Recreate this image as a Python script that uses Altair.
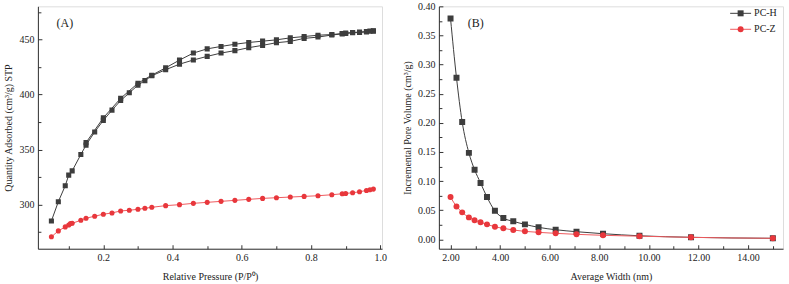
import altair as alt
import pandas as pd

FONT = "Liberation Serif"
GRAY = "#3d3d3d"
RED = "#e8373c"

# ---------------- Panel A data ----------------
ads_p = [0.05, 0.07, 0.09, 0.10, 0.11, 0.135, 0.15, 0.175, 0.20, 0.225, 0.25, 0.275, 0.30, 0.32,
         0.34, 0.38, 0.42, 0.46, 0.50, 0.54, 0.58, 0.62, 0.66, 0.70, 0.74, 0.78, 0.82, 0.86, 0.89,
         0.90, 0.92, 0.94, 0.96, 0.98]
ads_h = [285.2, 302.7, 317.2, 326.8, 330.7, 345.5, 354.0, 366.0, 376.5, 385.8, 394.5, 401.5, 408.5,
         412.6, 417.0, 422.5, 427.5, 431.3, 434.6, 437.6, 439.8, 442.5, 444.6, 447.0, 448.2, 450.9,
         452.1, 454.0, 455.0, 455.3, 456.0, 456.3, 456.8, 457.5]
des_p = [0.98, 0.97, 0.96, 0.94, 0.92, 0.90, 0.89, 0.86, 0.82, 0.78, 0.74, 0.70, 0.66, 0.62, 0.58,
         0.54, 0.50, 0.46, 0.42, 0.38, 0.34, 0.30, 0.25, 0.20, 0.15]
des_h = [457.8, 457.5, 457.2, 456.6, 456.3, 455.8, 455.3, 454.4, 453.8, 452.6, 451.4, 449.6, 448.4,
         447.2, 445.6, 443.6, 441.4, 437.6, 431.2, 424.2, 417.5, 410.2, 396.5, 378.8, 356.3]
z_p = [0.05, 0.07, 0.09, 0.10, 0.105, 0.11, 0.135, 0.15, 0.175, 0.20, 0.225, 0.25, 0.275, 0.30, 0.32,
       0.34, 0.38, 0.42, 0.46, 0.50, 0.54, 0.58, 0.62, 0.66, 0.70, 0.74, 0.78, 0.82, 0.86, 0.89,
       0.90, 0.92, 0.94, 0.96, 0.97, 0.98]
z_q = [270.8, 276.2, 279.8, 281.6, 282.8, 283.1, 285.8, 287.7, 289.5, 291.3, 292.5, 294.3, 294.9,
       295.8, 296.7, 297.6, 299.1, 300.0, 301.2, 302.1, 303.0, 303.9, 304.8, 305.7, 306.3, 306.9,
       307.5, 308.1, 309.0, 309.9, 310.2, 310.8, 311.7, 312.9, 313.5, 314.1]

# ---------------- Panel B data ----------------
widths = [2.0, 2.24, 2.47, 2.74, 2.97, 3.21, 3.47, 3.79, 4.13, 4.53, 5.0, 5.55, 6.24, 7.08, 8.15,
          9.62, 11.7, 15.0]
h_vol = [0.379, 0.2775, 0.2015, 0.1485, 0.1195, 0.097, 0.0726, 0.049, 0.0366, 0.031, 0.0258,
         0.0207, 0.0166, 0.0132, 0.0098, 0.0062, 0.0036, 0.0019]
z_vol = [0.0726, 0.0566, 0.0464, 0.0378, 0.0327, 0.0293, 0.0258, 0.0218, 0.019, 0.0161, 0.0138,
         0.0121, 0.0104, 0.0087, 0.007, 0.0055, 0.0035, 0.0019]

series_names = ["PC-H", "PC-Z"]

# tick lists
a_x_major = [0.2, 0.4, 0.6, 0.8, 1.0]
a_x_minor = [0.1, 0.3, 0.5, 0.7, 0.9]
a_y_major = [300, 350, 400, 450]
a_y_minor = [275, 325, 375, 425, 475]
b_x_major = [2, 4, 6, 8, 10, 12, 14]
b_x_minor = [3, 5, 7, 9, 11, 13, 15]
b_y_major = [0.0, 0.05, 0.10, 0.15, 0.20, 0.25, 0.30, 0.35, 0.40]
b_y_minor = [0.025, 0.075, 0.125, 0.175, 0.225, 0.275, 0.325, 0.375]

# ---------------- tables ----------------
rows = []
for i, (p, q) in enumerate(zip(ads_p, ads_h)):
    rows.append(dict(s="PC-H", br="ads", i=i, x=p, y=q))
for i, (p, q) in enumerate(zip(des_p, des_h)):
    rows.append(dict(s="PC-H", br="des", i=i, x=p, y=q))
for i, (p, q) in enumerate(zip(z_p, z_q)):
    rows.append(dict(s="PC-Z", br="ads", i=i, x=p, y=q))
dfa = pd.DataFrame(rows)

rows = []
for i, (w, v) in enumerate(zip(widths, h_vol)):
    rows.append(dict(s="PC-H", br="a", i=i, x=w, y=v))
for i, (w, v) in enumerate(zip(widths, z_vol)):
    rows.append(dict(s="PC-Z", br="a", i=i, x=w, y=v))
dfb = pd.DataFrame(rows)

W, H = 345, 243


def main_axis(title, fmt, values, orient, tpad):
    return alt.Axis(title=title, format=fmt, values=values, orient=orient, ticks=False,
                    grid=False, domain=True, domainColor="#333", labelFont=FONT, labelFontSize=10,
                    labelColor="#222", titleFont=FONT, titleFontSize=10, titleFontWeight="normal",
                    titleColor="#222", labelPadding=4, titlePadding=tpad, labelFlush=False)


def tick_axis(values, orient, size):
    return alt.Axis(title=None, values=values, orient=orient, labels=False, domain=False,
                    ticks=True, tickSize=size, offset=-size, tickColor="#333", grid=False)


def panel(df, xdom, ydom, xt, yt, xfmt, yfmt, xmaj, xmin, ymaj, ymin, interp, msize, label,
          lx, legend):
    xs = alt.Scale(domain=xdom, nice=False, zero=False)
    ys = alt.Scale(domain=ydom, nice=False, zero=False)
    layers = []
    first = True
    for name, col, shape in [("PC-H", GRAY, "square"), ("PC-Z", RED, "circle")]:
        sub = df[df.s == name]
        lc = col if name == "PC-H" else "#ef5a5e"
        line = alt.Chart(sub).mark_line(color=lc, strokeWidth=1, interpolate=interp, clip=True).encode(
            x=alt.X("x:Q", scale=xs,
                    axis=main_axis(xt, xfmt, xmaj, "bottom", 9) if first else None),
            y=alt.Y("y:Q", scale=ys,
                    axis=main_axis(yt, yfmt, ymaj, "left", 5) if first else None),
            detail="br:N",
            order="i:Q",
        )
        first = False
        pts = alt.Chart(sub).mark_point(shape=shape, filled=True, size=msize, color=col,
                                        opacity=1, clip=True).encode(
            x=alt.X("x:Q", scale=xs, axis=None),
            y=alt.Y("y:Q", scale=ys, axis=None),
        )
        layers += [line, pts]
    for vals_x, vals_y, sz in [(xmaj, ymaj, 4), (xmin, ymin, 3)]:
        t = alt.Chart(df).mark_point(opacity=0).encode(
            x=alt.X("x:Q", scale=xs, axis=tick_axis(vals_x, "bottom", sz)),
            y=alt.Y("y:Q", scale=ys, axis=tick_axis(vals_y, "left", sz)),
        )
        layers.append(t)
    lab = alt.Chart(pd.DataFrame({"t": [label]})).mark_text(
        font=FONT, fontSize=12, color="#222", align="center", baseline="middle").encode(
        text="t:N", x=alt.value(lx), y=alt.value(17))
    layers.append(lab)
    if legend:
        for k, (name, col, shape, lc) in enumerate([("PC-H", GRAY, "square", GRAY),
                                                     ("PC-Z", RED, "circle", "#ef5a5e")]):
            ly = 7 + 16 * k
            ldf = pd.DataFrame({"t": [name]})
            seg = alt.Chart(ldf).mark_rule(color=lc, strokeWidth=1).encode(
                x=alt.value(292), x2=alt.value(313), y=alt.value(ly))
            mk = alt.Chart(ldf).mark_point(shape=shape, filled=True, size=msize, color=col,
                                           opacity=1).encode(x=alt.value(302.5), y=alt.value(ly))
            tx = alt.Chart(ldf).mark_text(font=FONT, fontSize=10, color="#222", align="left",
                                          baseline="middle").encode(
                text="t:N", x=alt.value(316), y=alt.value(ly))
            layers += [seg, mk, tx]
    return alt.layer(*layers).resolve_axis(x="independent", y="independent").properties(
        width=W, height=H)


pa = panel(dfa, [0.011, 1.005], [260, 480], "Relative Pressure (P/P⁰)",
           "Quantity Adsorbed (cm³/g) STP", ".1f", "d", a_x_major, a_x_minor, a_y_major, a_y_minor,
           "linear", 26, "(A)", 27, False)
pb = panel(dfb, [1.53, 15.41], [-0.016, 0.40], "Average Width (nm)",
           "Incremental Pore Volume (cm³/g)", ".2f", ".2f", b_x_major, b_x_minor, b_y_major,
           b_y_minor, "monotone", 36, "(B)", 37, True)

chart = alt.hconcat(pa, pb, spacing=14).properties(
    padding={"left": 3, "top": 0, "right": 5, "bottom": 0}
).configure_view(stroke="#333", strokeWidth=1).configure_axis(
    labelFont=FONT, titleFont=FONT
).configure_text(font=FONT).configure(background="white")

chart.save("out.html", embed_options={"renderer": "svg", "actions": False})
